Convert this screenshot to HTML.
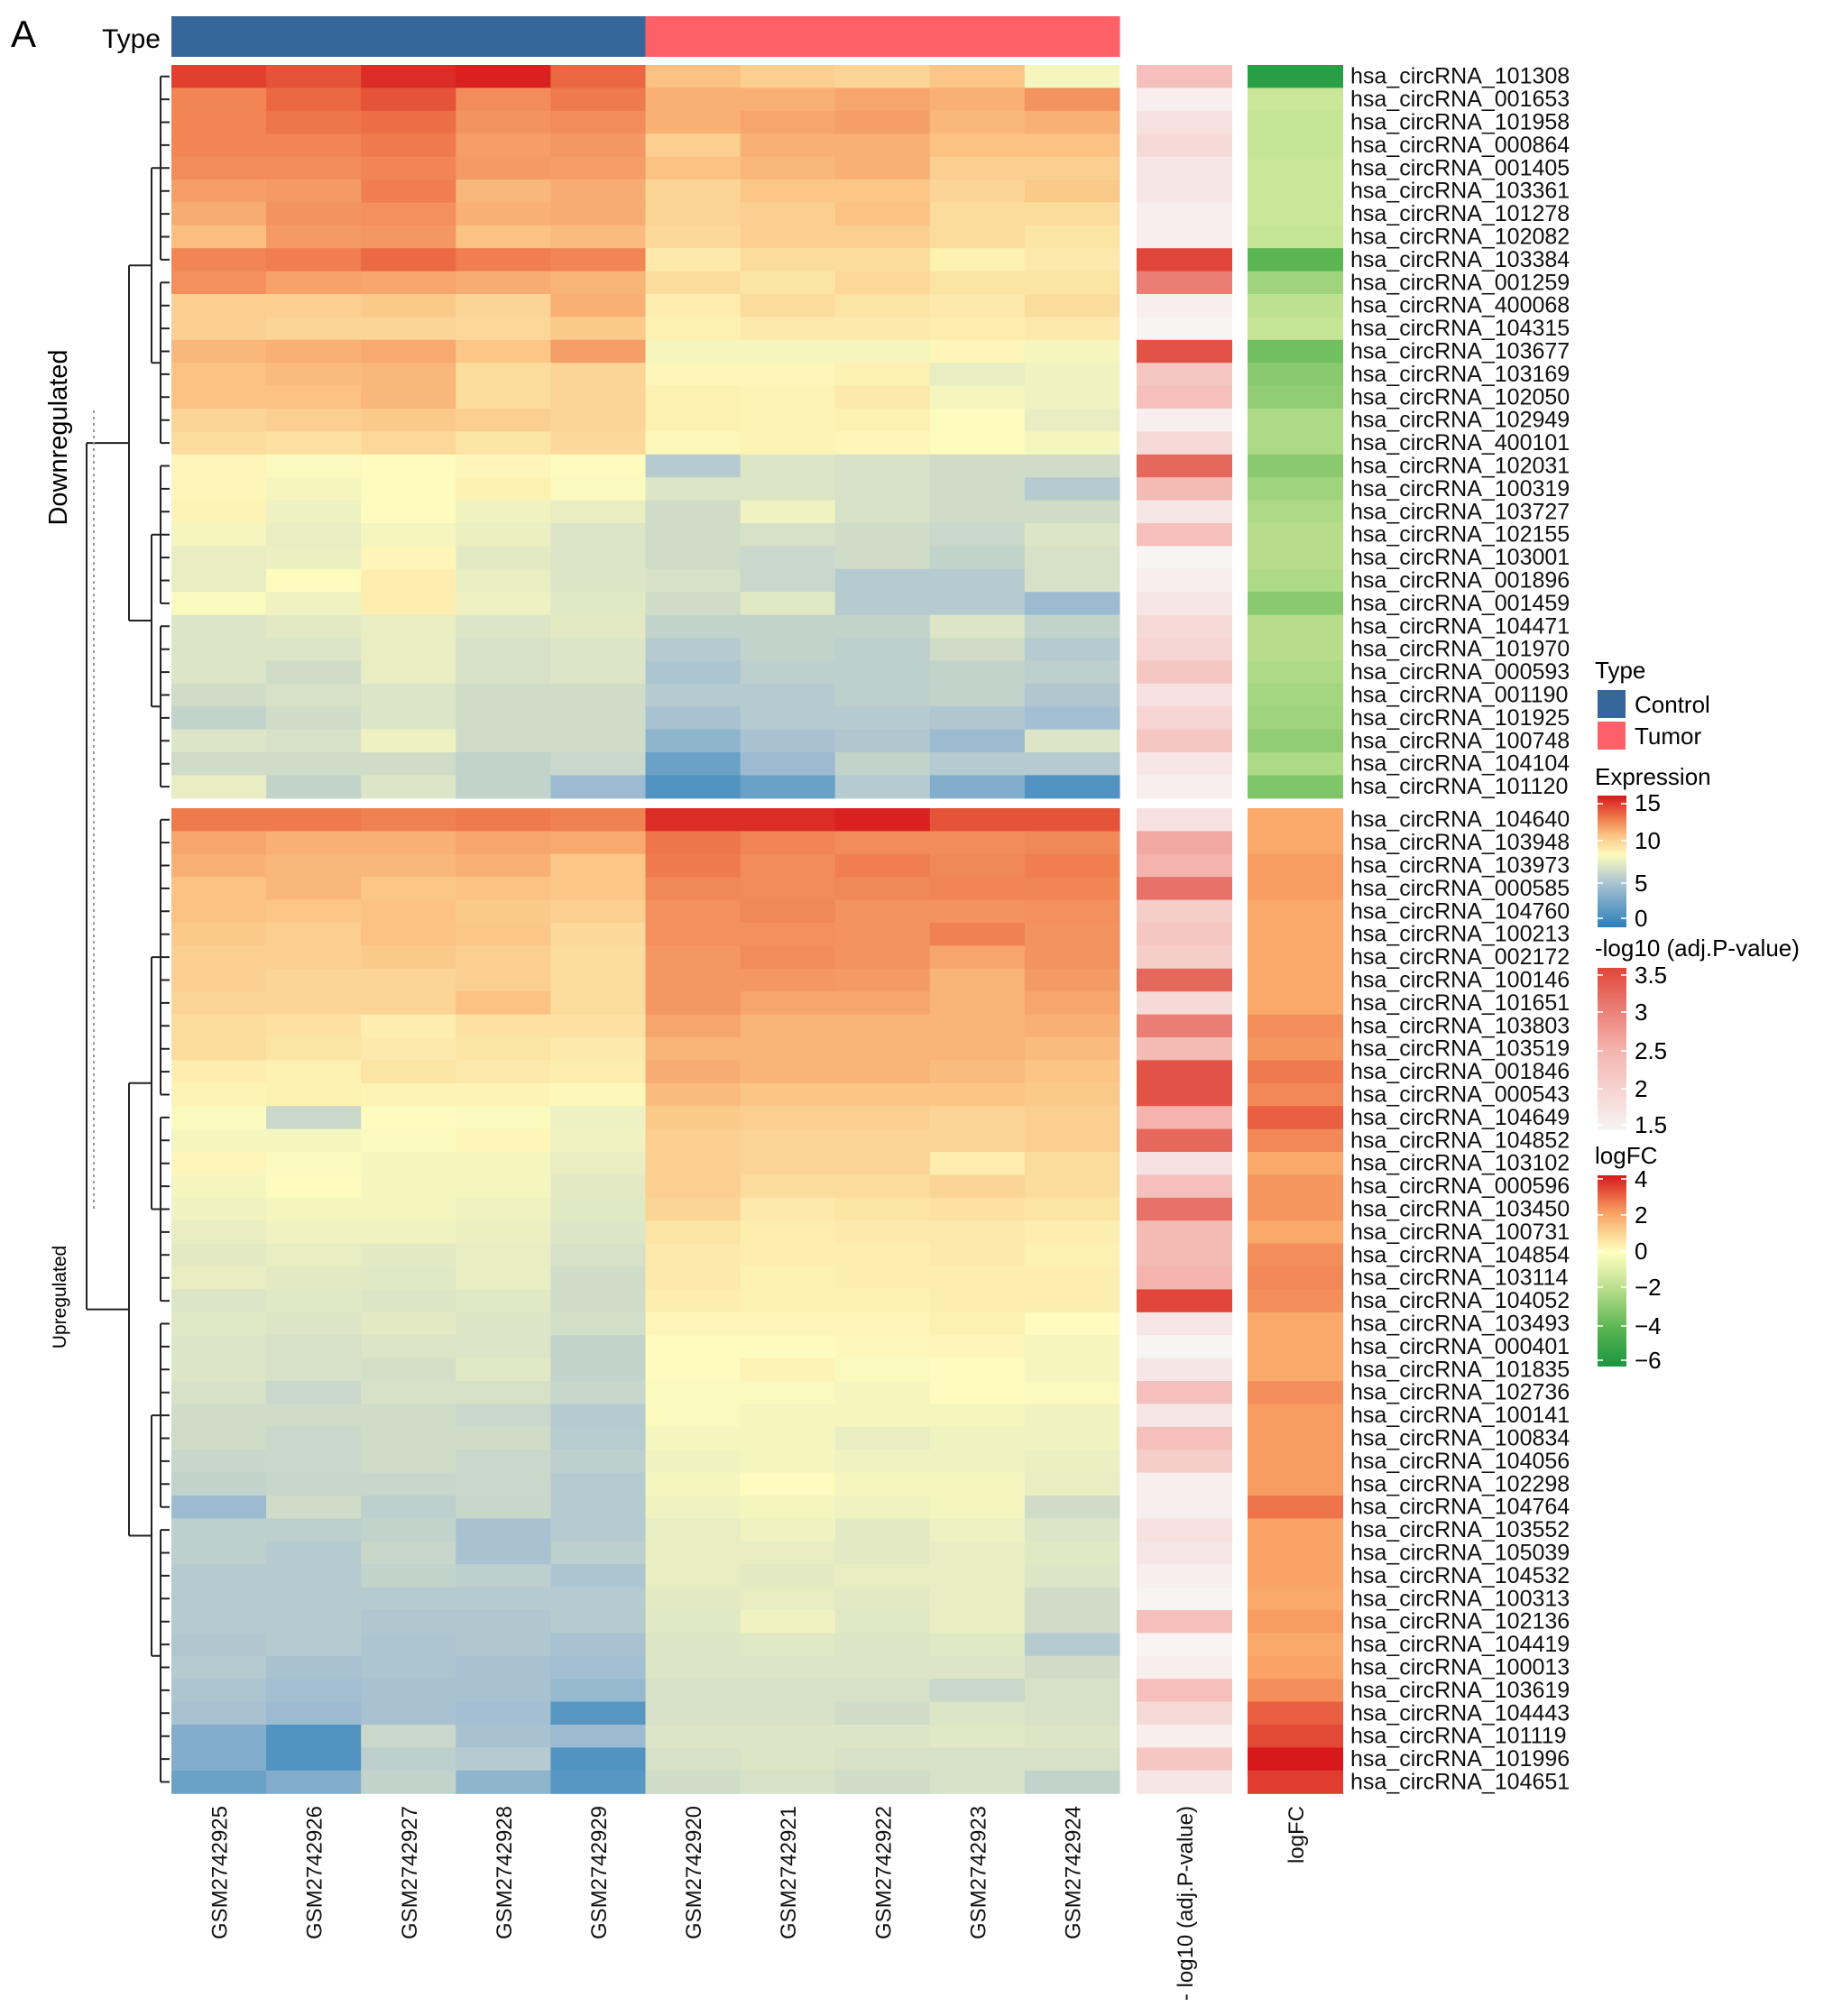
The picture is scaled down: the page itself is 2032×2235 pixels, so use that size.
<!DOCTYPE html>
<html><head><meta charset="utf-8"><style>
html,body{margin:0;padding:0;background:#fff;}
svg{display:block;font-family:"Liberation Sans",Arial,sans-serif;}
</style></head><body>
<svg id="chart" width="2032" height="2235" viewBox="0 0 2032 2235" xmlns="http://www.w3.org/2000/svg">
<defs>
<linearGradient id="gExpr" x1="0" y1="1" x2="0" y2="0">
<stop offset="0" stop-color="#2b7fba"/><stop offset="0.33" stop-color="#a8c2d2"/><stop offset="0.55" stop-color="#fdfbbd"/><stop offset="0.7" stop-color="#fbc283"/><stop offset="0.83" stop-color="#ef7a4c"/><stop offset="1" stop-color="#d7191c"/>
</linearGradient>
<linearGradient id="gP" x1="0" y1="1" x2="0" y2="0">
<stop offset="0" stop-color="#f7f4f4"/><stop offset="0.5" stop-color="#f4b3ad"/><stop offset="1" stop-color="#e0473a"/>
</linearGradient>
<linearGradient id="gFC" x1="0" y1="1" x2="0" y2="0">
<stop offset="0" stop-color="#1a9641"/><stop offset="0.2" stop-color="#5ab552"/><stop offset="0.4" stop-color="#b7dd8c"/><stop offset="0.6" stop-color="#ffffbf"/><stop offset="0.8" stop-color="#f9a466"/><stop offset="1" stop-color="#d7191c"/>
</linearGradient>
</defs>
<text x="12" y="52" font-size="42">A</text>
<text x="178" y="53" font-size="30" text-anchor="end">Type</text>
<g id="typebar"></g>
<g id="cells"></g>
<g id="dendro" fill="none" stroke="#222" stroke-width="2"></g>
<g id="rowlabels"></g>
<g id="collabels"></g>
<line x1="104" y1="455" x2="104" y2="1340" stroke="#999" stroke-width="2" stroke-dasharray="3,4"/>
<text transform="translate(74,485) rotate(-90)" font-size="29" text-anchor="middle">Downregulated</text>
<text transform="translate(73,1438) rotate(-90)" font-size="21" text-anchor="middle">Upregulated</text>
<g id="legends">
<text x="1768" y="752" font-size="26">Type</text>
<rect x="1771" y="765" width="31" height="31" fill="#36679a"/>
<text x="1812" y="790" font-size="26">Control</text>
<rect x="1771" y="800" width="31" height="31" fill="#fd6066"/>
<text x="1812" y="825" font-size="26">Tumor</text>
<text x="1768" y="870" font-size="26">Expression</text>
<rect x="1771" y="882" width="32" height="146" fill="url(#gExpr)"/>
<text x="1812" y="899" font-size="26">15</text>
<text x="1812" y="941" font-size="26">10</text>
<text x="1812" y="988" font-size="26">5</text>
<text x="1812" y="1027" font-size="26">0</text>
<text x="1768" y="1060" font-size="26">-log10 (adj.P-value)</text>
<rect x="1771" y="1073" width="32" height="180" fill="url(#gP)"/>
<text x="1812" y="1090" font-size="26">3.5</text>
<text x="1812" y="1131" font-size="26">3</text>
<text x="1812" y="1174" font-size="26">2.5</text>
<text x="1812" y="1216" font-size="26">2</text>
<text x="1812" y="1256" font-size="26">1.5</text>
<text x="1768" y="1290" font-size="26">logFC</text>
<rect x="1771" y="1303" width="32" height="212" fill="url(#gFC)"/>
<text x="1812" y="1316" font-size="26">4</text>
<text x="1812" y="1356" font-size="26">2</text>
<text x="1812" y="1396" font-size="26">0</text>
<text x="1812" y="1436" font-size="26">−2</text>
<text x="1812" y="1479" font-size="26">−4</text>
<text x="1812" y="1517" font-size="26">−6</text>
<g stroke="#fff" stroke-width="2" stroke-dasharray="6,20" opacity="0.8">
<line x1="1771" x2="1803" y1="891" y2="891"/><line x1="1771" x2="1803" y1="932" y2="932"/><line x1="1771" x2="1803" y1="979" y2="979"/><line x1="1771" x2="1803" y1="1018" y2="1018"/>
<line x1="1771" x2="1803" y1="1081" y2="1081"/><line x1="1771" x2="1803" y1="1122" y2="1122"/><line x1="1771" x2="1803" y1="1165" y2="1165"/><line x1="1771" x2="1803" y1="1207" y2="1207"/><line x1="1771" x2="1803" y1="1247" y2="1247"/>
<line x1="1771" x2="1803" y1="1307" y2="1307"/><line x1="1771" x2="1803" y1="1347" y2="1347"/><line x1="1771" x2="1803" y1="1387" y2="1387"/><line x1="1771" x2="1803" y1="1427" y2="1427"/><line x1="1771" x2="1803" y1="1470" y2="1470"/><line x1="1771" x2="1803" y1="1508" y2="1508"/>
</g>
</g>
</svg>
<script>
const samples = ["GSM2742925","GSM2742926","GSM2742927","GSM2742928","GSM2742929","GSM2742920","GSM2742921","GSM2742922","GSM2742923","GSM2742924"];
const sampleType = ["Control","Control","Control","Control","Control","Tumor","Tumor","Tumor","Tumor","Tumor"];
const downGenes = ["101308","001653","101958","000864","001405","103361","101278","102082","103384","001259","400068","104315","103677","103169","102050","102949","400101","102031","100319","103727","102155","103001","001896","001459","104471","101970","000593","001190","101925","100748","104104","101120"];
const upGenes = ["104640","103948","103973","000585","104760","100213","002172","100146","101651","103803","103519","001846","000543","104649","104852","103102","000596","103450","100731","104854","103114","104052","103493","000401","101835","102736","100141","100834","104056","102298","104764","103552","105039","104532","100313","102136","104419","100013","103619","104443","101119","101996","104651"];
const downExpr = [
[14,13.5,14.5,14.8,13,10.5,10,9.8,10.3,8],
[12.2,13,13.5,12,12.5,11,11,11.3,11,11.8],
[12.2,12.6,12.8,11.8,12,11,11.3,11.5,10.8,11],
[12.2,12.2,12.5,11.5,11.7,10,11,11,10.5,10.5],
[12,12,12.2,11.6,11.5,10.5,10.8,11,10,10],
[11.5,11.6,12.4,10.8,11.1,9.8,10.3,10.3,9.8,10.2],
[11.1,11.8,11.9,11,11.1,9.8,10,10.5,9.5,9.5],
[10.6,11.6,11.7,10.5,10.7,9.6,10,10,9.5,9.2],
[12.2,12.4,12.9,12.4,12.2,9,9.5,9.5,8.7,9],
[11.9,11.4,11.3,11.1,10.9,9.5,9.2,9.7,9.2,9.2],
[10,10,10.2,9.8,11,8.8,9.5,9.2,9,9.5],
[10,9.8,9.8,9.7,10.2,8.7,9,9,8.8,9],
[10.8,11,11.2,10.3,11.5,8,8,8,8.5,8],
[10.5,10.7,10.8,9.5,9.8,8.5,8.5,8.7,7.5,7.8],
[10.5,10.5,10.8,9.5,9.8,8.7,8.6,9,8,7.8],
[9.8,10,10.2,10,9.8,8.7,8.6,8.7,8.3,7.5],
[9.5,9.3,9.7,9.2,9.6,8.4,8.6,8.5,8.3,8],
[8.5,8.2,8.3,8.5,8.3,5.5,7,6.8,6.5,6.5],
[8.5,8,8.3,8.7,8.2,7,7,6.8,6.5,5.5],
[8.6,7.7,8.3,7.8,7.5,6.5,7.8,6.8,6.5,6.5],
[8,7.5,8,7.6,7,6.5,6.8,6.5,6.3,7],
[7.5,7.6,8.5,7.3,7,6.5,6.3,6.5,6,6.8],
[7.5,8.3,8.8,7.5,7,6.8,6.3,5.5,5.5,6.8],
[8.2,7.8,8.8,7.7,7.2,6.5,7.2,5.5,5.5,4.5],
[7,7.3,7.5,7,7.3,6,6,6,7,6],
[7,7,7.5,6.8,7,5.5,6,5.8,6.5,5.5],
[7,6.5,7.5,6.8,7,5.2,5.8,5.8,6,5.8],
[6.5,6.8,7,6.5,6.5,5.5,5.5,5.8,6,5.3],
[6,6.5,7,6.5,6.5,5,5.5,5.5,5.3,4.8],
[7,6.8,7.7,6.5,6.5,4,5,5.3,4.5,7],
[6.5,6.5,6.5,6,6.3,2.5,4.5,6,5.5,5.5],
[7.5,6,7,6,4.5,1.5,2.5,5.5,3.5,1.5]];
const upExpr = [
[12.5,12.5,12.3,12.5,12.3,14.5,14.5,14.8,13.5,13.5],
[11.3,11,11,11.3,11.2,12.6,12.2,12,12,12.1],
[11,10.8,10.8,11,10.3,12.5,12,12.4,12.1,12.4],
[10.5,10.8,10.3,10.5,10.3,12.1,12,12.1,12.2,12.2],
[10.5,10.3,10.5,10.2,10,11.9,12.1,11.8,11.8,11.9],
[10.2,10,10.5,10.3,9.6,11.9,11.9,11.8,12.3,11.8],
[10,10,10.2,10,9.5,11.7,12,11.8,11.3,11.8],
[10,9.8,9.8,10,9.5,11.7,11.7,11.6,10.9,11.6],
[9.8,9.8,9.8,10.5,9.5,11.7,11.3,11.3,10.9,11.3],
[9.5,9.3,8.8,9.3,9.3,11.3,10.9,10.9,10.9,11],
[9.5,9.2,9,9.2,9,10.9,10.9,10.9,10.9,10.7],
[8.8,8.7,9.2,9,8.8,11.1,10.9,10.9,10.7,10.4],
[8.6,8.7,8.6,8.6,8.4,10.7,10.4,10.4,10.4,10.2],
[8.2,6.3,8.3,8.2,7.7,10.2,10,10,9.8,10],
[8,8,8.2,8.5,7.8,10,9.8,9.8,9.8,10],
[8.5,8.2,8,8,7.5,10,9.8,9.8,8.8,9.5],
[8,8.3,8,8,7.3,10,9.5,9.5,9.8,9.5],
[7.8,8,8,7.8,7.2,9.8,9,9.2,9.3,9.2],
[7.5,7.8,7.8,7.6,7,9.2,8.8,9,9,8.8],
[7.3,7.5,7.3,7.5,6.8,9,8.8,8.8,9,8.7],
[7.5,7.3,7.2,7.5,6.5,9,8.7,8.8,8.8,8.8],
[7,7.2,7,7.2,6.5,8.8,8.7,8.7,8.8,8.8],
[7.2,7,7.3,7,6.6,8.5,8.5,8.5,8.7,8.3],
[7,6.8,7,7,6,8.3,8.3,8.4,8.5,8],
[7,6.8,6.7,7.2,6,8.3,8.6,8.2,8.3,8],
[6.8,6.3,6.8,6.8,6.2,8.2,8.2,8,8.3,8.2],
[6.5,6.5,6.5,6.3,5.5,8.2,8,8,8,7.8],
[6.5,6.3,6.5,6.5,5.6,8,8,7.5,7.8,7.8],
[6.2,6.3,6.5,6.3,5.8,7.8,8,7.8,7.8,7.6],
[6,6.2,6.2,6.3,5.5,8,8.3,8,8,7.5],
[4.5,6.5,5.8,6.2,5.5,7.8,8,7.8,8,6.5],
[5.8,5.8,6,5,5.5,7.5,7.8,7.3,7.7,7],
[5.8,5.5,6.2,5,5.8,7.5,7.5,7.3,7.5,7.2],
[5.5,5.5,6,5.8,5.2,7.5,7.3,7.5,7.5,7],
[5.5,5.5,5.5,5.5,5.5,7.3,7.5,7.3,7.5,6.5],
[5.5,5.5,5.3,5.3,5.5,7.2,7.8,7.2,7.5,6.5],
[5.3,5.5,5.2,5.3,5,7,7.2,7,7.2,5.5],
[5.5,5,5.2,5,4.8,7,7,7,7,6.5],
[5.2,4.8,5,5,4.3,6.8,6.8,6.8,6.3,6.8],
[5,4.5,5,4.8,1.8,6.8,6.8,6.5,7,6.8],
[3.5,1.5,6.3,5,4.5,7,7,7,7.2,7],
[3.5,1.5,5.8,5.5,1.5,6.8,7,6.8,6.8,6.8],
[2.5,3.5,6,4,1.8,6.5,6.8,6.5,6.8,6]];
const downP = [2.3,1.6,1.8,1.9,1.7,1.7,1.6,1.6,3.6,3.0,1.6,1.5,3.4,2.2,2.3,1.6,1.9,3.2,2.4,1.7,2.3,1.5,1.6,1.7,1.9,2.0,2.2,1.8,2.0,2.2,1.7,1.6];
const upP = [1.8,2.6,2.5,3.1,2.1,2.2,2.1,3.2,1.9,3.0,2.4,3.4,3.4,2.5,3.2,1.8,2.3,3.1,2.4,2.4,2.5,3.5,1.7,1.5,1.7,2.3,1.7,2.3,2.1,1.6,1.6,1.8,1.7,1.6,1.5,2.3,1.5,1.6,2.3,1.9,1.6,2.2,1.7];
const downFC = [-5.5,-1.5,-1.6,-1.6,-1.5,-1.5,-1.5,-1.6,-4,-2.5,-1.8,-1.6,-3.5,-3,-2.8,-2.2,-2.2,-3,-2.5,-2.2,-2,-2,-2.2,-3,-2,-2,-2.2,-2.4,-2.5,-2.8,-2.2,-3.2];
const upFC = [1.9,1.9,2.1,2.1,1.9,1.9,1.9,1.9,1.9,2.3,2.2,2.6,2.4,3,2.4,1.9,2.2,2.2,1.9,2.3,2.4,2.3,1.9,1.9,1.9,2.3,2.1,2.1,2.1,2.1,2.7,2,2,2,1.9,2.1,1.9,2,2.3,3,3.3,4,3.5];

const NS='http://www.w3.org/2000/svg';
function mk(tag, attrs, parent){const e=document.createElementNS(NS,tag);for(const k in attrs)e.setAttribute(k,attrs[k]);parent.appendChild(e);return e;}
function hex(c){return [parseInt(c.slice(1,3),16),parseInt(c.slice(3,5),16),parseInt(c.slice(5,7),16)];}
function scale(stops){return v=>{if(v<=stops[0][0])return stops[0][1];for(let i=1;i<stops.length;i++){if(v<=stops[i][0]){const t=(v-stops[i-1][0])/(stops[i][0]-stops[i-1][0]);const a=hex(stops[i-1][1]),b=hex(stops[i][1]);return 'rgb('+a.map((x,j)=>Math.round(x+(b[j]-x)*t)).join(',')+')';}}return stops[stops.length-1][1];};}
const exprColor=scale([[0,'#2b7fba'],[5,'#a8c2d2'],[8.3,'#fdfbbd'],[10.5,'#fbc283'],[12.5,'#ef7a4c'],[15,'#d7191c']]);
const pColor=scale([[1.5,'#f7f4f4'],[2.5,'#f4b3ad'],[3.5,'#e0473a']]);
const fcColor=scale([[-6,'#1a9641'],[-4,'#5ab552'],[-2,'#b7dd8c'],[0,'#ffffbf'],[2,'#f9a466'],[4,'#d7191c']]);

const X0=190, CW=105.1, RH=25.4, DOWN_TOP=72, UP_TOP=896, PX=1260, FX=1383, AW=106;
const xCol=i=>X0+i*CW;
const yRow=(block,i)=>(block==='down'?DOWN_TOP:UP_TOP)+i*RH;

const typebar=document.getElementById('typebar');
sampleType.forEach((t,i)=>{
  const r=mk('rect',{x:xCol(i),y:18,width:CW+0.6,height:45,fill:t==='Control'?'#36679a':'#fd6066'},typebar);
  
  
});

const cells=document.getElementById('cells');
const rowlabels=document.getElementById('rowlabels');
function drawBlock(block,genes,expr,pv,fc){
  genes.forEach((g,r)=>{
    const y=yRow(block,r);
    expr[r].forEach((v,c)=>{
      const e=mk('rect',{x:xCol(c),y:y,width:CW+0.6,height:RH+0.6,fill:exprColor(v)},cells);
      
      
    });
    const p=mk('rect',{x:PX,y:y,width:AW,height:RH+0.6,fill:pColor(pv[r])},cells);
    
    
    const f=mk('rect',{x:FX,y:y,width:AW,height:RH+0.6,fill:fcColor(fc[r])},cells);
    
    
    const t=mk('text',{x:1497,y:y+RH/2+8,'font-size':25,fill:'#111'},rowlabels);
    t.textContent='hsa_circRNA_'+g;
    
    
  });
}
drawBlock('down',downGenes,downExpr,downP,downFC);
drawBlock('up',upGenes,upExpr,upP,upFC);

const collabels=document.getElementById('collabels');
samples.forEach((s,i)=>{
  const cx=xCol(i)+CW/2+9;
  const t=mk('text',{transform:'translate('+cx+',2002) rotate(-90)','font-size':24,'text-anchor':'end',fill:'#111'},collabels);
  t.textContent=s;
  
  
});
[['- log10 (adj.P-value)',PX+AW/2+9,'column-label-pvalue'],['logFC',FX+AW/2+9,'column-label-logfc']].forEach(a=>{
  const t=mk('text',{transform:'translate('+a[1]+',2002) rotate(-90)','font-size':24,'text-anchor':'end',fill:'#111'},collabels);
  t.textContent=a[0];
  
  
});

const dendro=document.getElementById('dendro');


function cluster(block,groups,xInner,xGroup,xBlock){
  const mids=[];
  groups.forEach(([a,b])=>{
    const y1=yRow(block,a)+RH/2, y2=yRow(block,b)+RH/2;
    let d='';
    for(let r=a;r<=b;r++){const y=yRow(block,r)+RH/2;d+='M'+xInner+' '+y+'H188';}
    d+='M'+xInner+' '+y1+'V'+y2;
    const m=(y1+y2)/2;
    d+='M'+xGroup+' '+m+'H'+xInner;
    mk('path',{d:d},dendro);
    mids.push(m);
  });
  const p1=(mids[0]+mids[1])/2, p2=(mids[2]+mids[3])/2;
  let d='M'+(xGroup)+' '+mids[0]+'V'+mids[1]+'M'+xGroup+' '+mids[2]+'V'+mids[3];
  const xg2=xGroup-25;
  d+='M'+xg2+' '+p1+'H'+xGroup+'M'+xg2+' '+p2+'H'+xGroup+'M'+xg2+' '+p1+'V'+p2;
  const m=(p1+p2)/2;
  d+='M'+xBlock+' '+m+'H'+xg2;
  mk('path',{d:d},dendro);
  return m;
}
const md=cluster('down',[[0,8],[9,16],[17,23],[24,31]],178,168,116);
const mu=cluster('up',[[0,12],[13,21],[22,30],[31,42]],178,168,110);
mk('path',{d:'M96 '+md+'H116M96 '+mu+'H110M96 '+md+'V'+mu},dendro);
</script>
</body></html>
